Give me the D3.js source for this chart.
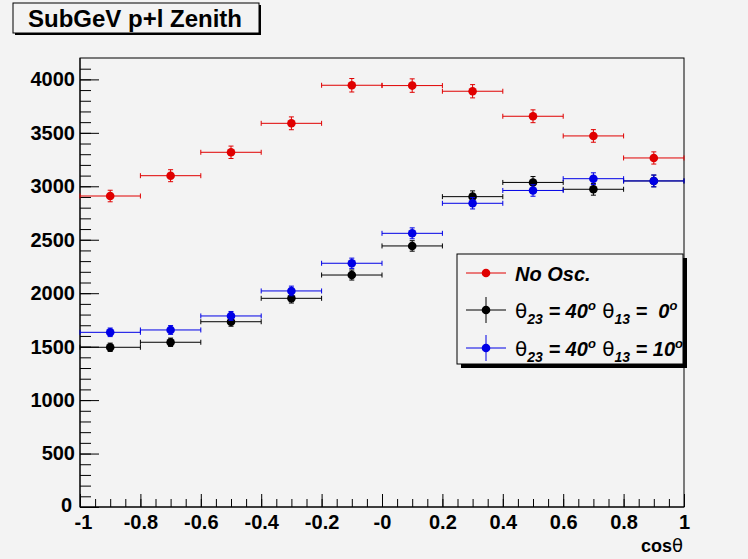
<!DOCTYPE html>
<html>
<head>
<meta charset="utf-8">
<script src="https://cdn.jsdelivr.net/npm/d3@7"></script>
<style>
  body { margin: 0; background: #f3f3f3; }
  svg { display: block; font-family: "Liberation Sans", Arial, sans-serif; }
  text { white-space: pre; }
</style>
</head>
<body>
<svg id="chart" width="748" height="559"></svg>
<script>

// bin centres of the cos(theta) histogram, width 0.2
var binCenters = [-0.9, -0.7, -0.5, -0.3, -0.1, 0.1, 0.3, 0.5, 0.7, 0.9];
var binHalfWidth = 0.1;

// No oscillation
var noOsc = [2909, 3099, 3318, 3589, 3945, 3942, 3889, 3655, 3471, 3265];
var noOscErr = [54, 56, 58, 60, 63, 63, 62, 60, 59, 57];

// theta23 = 40, theta13 = 0
var osc0 = [1494, 1541, 1733, 1952, 2170, 2442, 2903, 3036, 2972, 3050];
var osc0Err = [39, 39, 42, 44, 47, 49, 54, 55, 55, 55];

// theta23 = 40, theta13 = 10
var osc10 = [1634, 1656, 1787, 2021, 2280, 2560, 2841, 2961, 3071, 3050];
var osc10Err = [40, 41, 42, 45, 48, 51, 53, 54, 55, 55];

var xTicks = [-1, -0.8, -0.6, -0.4, -0.2, 0, 0.2, 0.4, 0.6, 0.8, 1];
var xTickLabels = ["-1", "-0.8", "-0.6", "-0.4", "-0.2", "-0", "0.2", "0.4", "0.6", "0.8", "1"];
var yTicks = [0, 500, 1000, 1500, 2000, 2500, 3000, 3500, 4000];

var bg = "#f3f3f3";
var svg = d3.select("#chart");

var x = d3.scaleLinear().domain([-1, 1]).range([80, 684]);
var y = d3.scaleLinear().domain([0, 4200]).range([507, 58]);

// frame
svg.append("rect")
  .attr("x", x(-1)).attr("y", y(4200))
  .attr("width", x(1) - x(-1)).attr("height", y(0) - y(4200))
  .attr("fill", bg).attr("stroke", "#000").attr("stroke-width", 1);

// y axis, ticks pointing inwards
var yMinor = d3.range(0, 4200, 100);
svg.append("g")
  .attr("transform", "translate(" + x(-1) + ",0)")
  .call(d3.axisLeft(y).tickValues(yMinor).tickSize(-11).tickFormat(""))
  .call(function (g) { g.select(".domain").remove(); });
svg.append("g")
  .attr("transform", "translate(" + x(-1) + ",0)")
  .call(d3.axisLeft(y).tickValues(yTicks).tickSizeInner(-19).tickSizeOuter(0).tickPadding(5).tickFormat(d3.format("d")))
  .call(function (g) {
    g.select(".domain").remove();
    g.selectAll("text").attr("font-size", 20).attr("font-weight", "bold")
      .attr("font-family", "Liberation Sans, Arial, sans-serif").attr("fill", "#000");
    // the zero label sits a little left and up so it clears the "-1"
    g.selectAll("text").filter(function (d) { return d === 0; }).attr("dx", -3).attr("dy", "0.2em");
  });

// x axis
var xMinor = d3.range(-1, 1.0001, 0.05);
svg.append("g")
  .attr("transform", "translate(0," + y(0) + ")")
  .call(d3.axisBottom(x).tickValues(xMinor).tickSize(-8).tickFormat(""))
  .call(function (g) { g.select(".domain").remove(); });
svg.append("g")
  .attr("transform", "translate(0," + y(0) + ")")
  .call(d3.axisBottom(x).tickValues(xTicks).tickSizeInner(-13).tickSizeOuter(0).tickPadding(8)
    .tickFormat(function (d, i) { return xTickLabels[i]; }))
  .call(function (g) {
    g.select(".domain").remove();
    g.selectAll("text").attr("font-size", 20).attr("font-weight", "bold")
      .attr("font-family", "Liberation Sans, Arial, sans-serif").attr("fill", "#000");
    g.selectAll("text").filter(function (d) { return d === -1; }).attr("dx", 3);
  });

// axis lines on top of the frame
svg.append("line").attr("x1", x(-1)).attr("x2", x(1)).attr("y1", y(0)).attr("y2", y(0)).attr("stroke", "#000");
svg.append("line").attr("x1", x(-1)).attr("x2", x(-1)).attr("y1", y(0)).attr("y2", y(4200)).attr("stroke", "#000");

// x title
var xt = svg.append("text").attr("x", 683).attr("y", 552).attr("text-anchor", "end")
  .attr("font-size", 18).attr("font-weight", "bold");
xt.append("tspan").text("cos");
xt.append("tspan").attr("font-weight", "normal").attr("font-family", "DejaVu Sans").text("\u03b8");

// histogram points with errors
function drawSeries(values, errs, color) {
  var g = svg.append("g").attr("stroke", color).attr("stroke-width", 1);
  var cap = 2.5;
  values.forEach(function (v, i) {
    var cx = x(binCenters[i]), cy = y(v);
    var xl = x(binCenters[i] - binHalfWidth), xr = x(binCenters[i] + binHalfWidth);
    var yt = y(v + errs[i]), yb = y(v - errs[i]);
    g.append("line").attr("x1", xl).attr("x2", xr).attr("y1", cy).attr("y2", cy);
    g.append("line").attr("x1", xl).attr("x2", xl).attr("y1", cy - cap).attr("y2", cy + cap);
    g.append("line").attr("x1", xr).attr("x2", xr).attr("y1", cy - cap).attr("y2", cy + cap);
    g.append("line").attr("x1", cx).attr("x2", cx).attr("y1", yt).attr("y2", yb);
    g.append("line").attr("x1", cx - cap).attr("x2", cx + cap).attr("y1", yt).attr("y2", yt);
    g.append("line").attr("x1", cx - cap).attr("x2", cx + cap).attr("y1", yb).attr("y2", yb);
    g.append("circle").attr("cx", cx).attr("cy", cy).attr("r", 4.3)
      .attr("fill", color).attr("stroke", "none");
  });
}
drawSeries(noOsc, noOscErr, "#e00000");
drawSeries(osc0, osc0Err, "#000000");
drawSeries(osc10, osc10Err, "#0000e6");

// title box
svg.append("rect").attr("x", 15).attr("y", 5).attr("width", 246).attr("height", 30).attr("fill", "#000");
svg.append("rect").attr("x", 13).attr("y", 3).attr("width", 246).attr("height", 30)
  .attr("fill", bg).attr("stroke", "#000").attr("stroke-width", 1);
svg.append("text").attr("x", 135).attr("y", 27).attr("text-anchor", "middle")
  .attr("font-size", 24).attr("font-weight", "bold").text("SubGeV p+l Zenith");

// legend
var lx = 457, ly = 254, lw = 226, lh = 110;
svg.append("rect").attr("x", lx + 4).attr("y", ly + 4).attr("width", lw).attr("height", lh).attr("fill", "#000");
svg.append("rect").attr("x", lx).attr("y", ly).attr("width", lw).attr("height", lh)
  .attr("fill", bg).attr("stroke", "#000").attr("stroke-width", 1);
svg.append("clipPath").attr("id", "legclip").append("rect")
  .attr("x", lx).attr("y", ly).attr("width", lw).attr("height", lh);
var leg = svg.append("g").attr("clip-path", "url(#legclip)");

var legendEntries = [
  { color: "#e00000", y: 273, vbar: false, label: null },
  { color: "#000000", y: 310, vbar: true, label: " 0" },
  { color: "#0000e6", y: 348, vbar: true, label: "10" }
];
legendEntries.forEach(function (e) {
  leg.append("line").attr("x1", 466).attr("x2", 506).attr("y1", e.y).attr("y2", e.y).attr("stroke", e.color);
  if (e.vbar) {
    leg.append("line").attr("x1", 486).attr("x2", 486).attr("y1", e.y - 13).attr("y2", e.y + 13).attr("stroke", e.color);
  }
  leg.append("circle").attr("cx", 486).attr("cy", e.y).attr("r", 4.3).attr("fill", e.color);
  var t = leg.append("text").attr("x", 515).attr("y", e.y + 8).attr("font-size", 20)
    .attr("font-weight", "bold").attr("font-style", "italic");
  if (!e.label) {
    t.text("No Osc.");
    return;
  }
  t.append("tspan").attr("font-family", "DejaVu Sans").attr("font-weight", "normal").attr("font-style", "normal").text("\u03b8");
  t.append("tspan").attr("font-size", 14).attr("dy", 6).text("23");
  t.append("tspan").attr("dy", -6).text(" = 40");
  t.append("tspan").attr("font-size", 13).attr("dy", -8).text("o");
  t.append("tspan").attr("dy", 8).attr("font-family", "DejaVu Sans").attr("font-weight", "normal").attr("font-style", "normal").text(" \u03b8");
  t.append("tspan").attr("font-size", 14).attr("dy", 6).text("13");
  t.append("tspan").attr("dy", -6).text(" = " + e.label);
  t.append("tspan").attr("font-size", 13).attr("dy", -8).text("o");
});
</script>
</body>
</html>
